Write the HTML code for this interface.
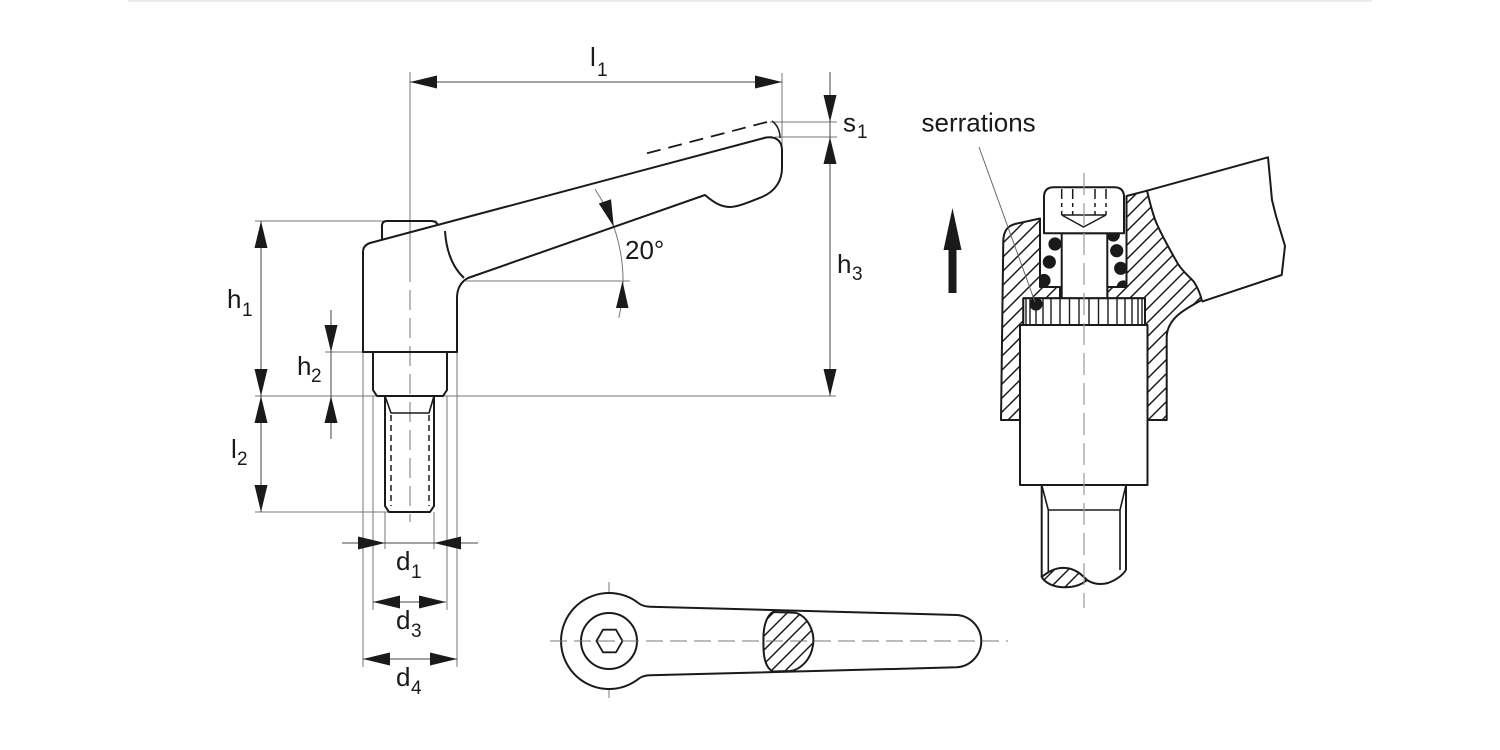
<!DOCTYPE html>
<html>
<head>
<meta charset="utf-8">
<style>
html,body{margin:0;padding:0;background:#fff;}
body{width:1500px;height:750px;overflow:hidden;}
svg{display:block;}
text{font-family:"Liberation Sans",Arial,sans-serif;fill:#1a1a1a;}
</style>
</head>
<body>
<svg width="1500" height="750" viewBox="0 0 1500 750" xmlns="http://www.w3.org/2000/svg">
<defs>
<pattern id="h" patternUnits="userSpaceOnUse" width="14" height="14">
<rect width="14" height="14" fill="#fff"/>
<path d="M-1,15 L15,-1 M-8,8 L8,-8 M6,22 L22,6" stroke="#1a1a1a" stroke-width="1.5"/>
</pattern>
</defs>

<rect x="128" y="0" width="1244" height="2" fill="#ececf0"/>

<!-- ============ SIDE VIEW ============ -->
<g stroke="#777" stroke-width="1" fill="none">
  <!-- extension lines -->
  <line x1="410" y1="72" x2="410" y2="262"/>
  <line x1="410" y1="262" x2="410" y2="522" stroke-dasharray="20 8"/>
  <line x1="782" y1="73" x2="782" y2="150"/>
  <line x1="770" y1="122" x2="837" y2="122"/>
  <line x1="775" y1="137" x2="837" y2="137"/>
  <line x1="255" y1="221" x2="437" y2="221"/>
  <line x1="255" y1="396" x2="836" y2="396"/>
  <line x1="325" y1="352" x2="363" y2="352"/>
  <line x1="255" y1="512" x2="389" y2="512"/>
  <line x1="466" y1="281" x2="630" y2="281"/>
  <line x1="363" y1="352" x2="363" y2="667"/>
  <line x1="457" y1="352" x2="457" y2="667"/>
  <line x1="373" y1="396" x2="373" y2="610"/>
  <line x1="447" y1="396" x2="447" y2="610"/>
  <line x1="385" y1="512" x2="385" y2="549"/>
  <line x1="434" y1="512" x2="434" y2="549"/>
  <!-- 20 deg arc -->
  <path d="M595,189.3 A164 164 0 0 1 618.8,317.9"/>
</g>
<g stroke="#444" stroke-width="1" fill="none">
  <line x1="410" y1="82" x2="782" y2="82"/>
  <line x1="830" y1="72" x2="830" y2="396"/>
  <line x1="261" y1="221" x2="261" y2="512"/>
  <line x1="331" y1="310" x2="331" y2="439"/>
  <line x1="342" y1="543" x2="478" y2="543"/>
  <line x1="373" y1="602" x2="446" y2="602"/>
  <line x1="363" y1="659" x2="457" y2="659"/>
</g>
<g fill="#1a1a1a">
  <!-- l1 -->
  <polygon points="410,82 437,75.5 437,88.5"/>
  <polygon points="782,82 755,75.5 755,88.5"/>
  <!-- s1 / h3 -->
  <polygon points="830,122 823.5,95 836.5,95"/>
  <polygon points="830,137 823.5,164 836.5,164"/>
  <polygon points="830,396 823.5,369 836.5,369"/>
  <!-- h1 / l2 -->
  <polygon points="261,221 254.5,248 267.5,248"/>
  <polygon points="261,396 254.5,369 267.5,369"/>
  <polygon points="261,396 254.5,423 267.5,423"/>
  <polygon points="261,512 254.5,485 267.5,485"/>
  <!-- h2 -->
  <polygon points="331,352 324.5,325 337.5,325"/>
  <polygon points="331,396 324.5,423 337.5,423"/>
  <!-- d1 -->
  <polygon points="385,543 358,536.5 358,549.5"/>
  <polygon points="434,543 461,536.5 461,549.5"/>
  <!-- d3 -->
  <polygon points="373,602 400,595.5 400,608.5"/>
  <polygon points="446,602 419,595.5 419,608.5"/>
  <!-- d4 -->
  <polygon points="363,659 390,652.5 390,665.5"/>
  <polygon points="457,659 430,652.5 430,665.5"/>
  <!-- 20 deg -->
  <polygon points="613.8,226.9 611,199.3 598.8,203.5"/>
  <polygon points="622.5,281 616,308 628.5,308"/>
</g>

<!-- handle outline -->
<g stroke="#1a1a1a" stroke-width="2" fill="none" stroke-linejoin="round">
  <path d="M363,352 L363,252 Q363,245.5 370,243 L766,137.5 C776,136 782,141 782,150 L782,168 C782,180 776,191 762,197 C752,201 738,207 730,207 C720,207 712,201 705,195 L468,278 Q457,284 457,298 L457,352 Z"/>
  <path d="M382,239.8 L382,226 Q382,221 387,221 L431,221 Q436,221 438,225"/>
  <path d="M445,231 Q447,262 464,278"/>
  <path d="M647,153.3 L768,121.7" stroke-dasharray="14 8" stroke-width="1.8"/>
  <path d="M772,121 Q780,127 780,138" stroke-width="1.5"/>
  <!-- collar -->
  <path d="M373,352 L373,390 L377,396 L443,396 L447,390 L447,352"/>
  <!-- thread -->
  <path d="M385,396 L385,506 L389,512 L430,512 L434,506 L434,396"/>
  <path d="M385,396 L391,413 L429,413 L434,396" stroke-width="1.6"/>
  <line x1="391" y1="415" x2="391" y2="506" stroke-dasharray="6 4" stroke-width="1.5"/>
  <line x1="429" y1="415" x2="429" y2="506" stroke-dasharray="6 4" stroke-width="1.5"/>
</g>

<!-- labels side view -->
<text x="590" y="66" font-size="26">l</text><text x="597" y="76" font-size="19">1</text>
<text x="843" y="131.5" font-size="26">s</text><text x="857" y="138" font-size="19">1</text>
<text x="837" y="273" font-size="26">h</text><text x="852" y="280" font-size="19">3</text>
<text x="625" y="259" font-size="26">20°</text>
<text x="227" y="308" font-size="26">h</text><text x="242" y="316" font-size="19">1</text>
<text x="297" y="375" font-size="26">h</text><text x="311" y="382" font-size="19">2</text>
<text x="231" y="458" font-size="26">l</text><text x="237" y="465" font-size="19">2</text>
<text x="396" y="570" font-size="26">d</text><text x="411" y="578" font-size="19">1</text>
<text x="396" y="629" font-size="26">d</text><text x="411" y="637" font-size="19">3</text>
<text x="396" y="686" font-size="26">d</text><text x="411" y="694" font-size="19">4</text>

<!-- ============ TOP VIEW (bottom) ============ -->
<g stroke="#777" stroke-width="1" fill="none">
  <line x1="609" y1="582" x2="609" y2="698"/>
</g>
<g stroke="#1a1a1a" stroke-width="2" fill="none" stroke-linejoin="round">
  <path d="M956.7,615 L650,606.7 Q643,606.5 639,603.5 A48 48 0 1 0 639,678.5 Q643,675.5 650,675.3 L956.7,667.3 A26.2 26.2 0 0 0 956.7,615 Z" fill="#fff"/>
  <circle cx="609" cy="641" r="28"/>
  <polygon points="596.5,641 603,629.7 616,629.7 622.5,641 616,652.3 603,652.3" stroke-width="1.8"/>
  <path d="M773,612 L795,612.7 C808,616 815,632 813,645 C811,660 800,670 790,671 L773,671.5 C765,668 763,655 763.5,641 C763,628 766,616 773,612 Z" fill="url(#h)"/>
</g>
<line x1="550" y1="641" x2="1008" y2="641" stroke="#777" stroke-width="1" stroke-dasharray="17 7"/>

<!-- ============ SECTION VIEW ============ -->
<!-- up arrow -->
<polygon points="952.5,208 961.5,250 956.5,250 956.5,293 948.5,293 948.5,250 943.5,250" fill="#1a1a1a"/>
<text x="921.5" y="131.5" font-size="26">serrations</text>

<g stroke="#1a1a1a" stroke-width="2" fill="none" stroke-linejoin="round">
  <!-- lever continuation -->
  <path d="M1147,190.7 L1268,157.3 L1272,200 L1276,216 L1285,246 L1281.7,275 L1201.7,301.7" fill="#fff"/>
  <!-- spring dots (under) -->
  <g fill="#1a1a1a" stroke="none">
    <circle cx="1055" cy="244" r="6.6"/>
    <circle cx="1049.3" cy="262" r="6.6"/>
    <circle cx="1044" cy="280.5" r="6.6"/>
    <circle cx="1113.3" cy="235" r="6.6"/>
    <circle cx="1116.7" cy="250.7" r="6.6"/>
    <circle cx="1120.7" cy="268.3" r="6.6"/>
    <circle cx="1123.3" cy="287" r="6.6"/>
  </g>
  <!-- hatched regions -->
  <path d="M1126.5,196 L1147,190.7 C1150,203 1152,212 1156,222 C1161,234 1170,250 1178,264 C1184,273 1190,277 1194,282 C1198,288 1200,293 1201.7,300 C1185,309 1168,318 1166.7,336 L1166.7,420 L1147,420 L1147,325 L1145,325 L1145,298.3 L1107.3,298.3 L1107.3,287 L1126.5,287 Z" fill="url(#h)"/>
  <path d="M1001,420 L1003.3,240 C1004,230 1008,226 1015,224 L1040,218.5 L1040,287 L1060,287 L1060,298.3 L1023.3,298.3 L1023.3,325 L1020,325 L1020,420 Z" fill="url(#h)"/>
  <!-- screw shank -->
  <rect x="1061.7" y="233.3" width="45.6" height="65" fill="#fff"/>
  <!-- screw head -->
  <path d="M1044,233.3 L1044,197 Q1044,187.3 1054,187.3 L1114,187.3 Q1124,187.3 1124,197 L1124,233.3 Z" fill="#fff"/>
  <g stroke-width="1.5">
    <line x1="1061.7" y1="189" x2="1061.7" y2="215" stroke-dasharray="10 4 4 4"/>
    <line x1="1072.7" y1="189" x2="1072.7" y2="215" stroke-dasharray="10 4 4 4"/>
    <line x1="1095" y1="189" x2="1095" y2="215" stroke-dasharray="10 4 4 4"/>
    <line x1="1106" y1="189" x2="1106" y2="215" stroke-dasharray="10 4 4 4"/>
    <path d="M1061.7,215 L1106,215 M1061.7,215 L1083.5,227 L1106,215"/>
  </g>
  <!-- serration ring -->
  <rect x="1023.3" y="298.3" width="121.7" height="26.7" fill="#fff"/>
  <g stroke-width="1.4">
    <line x1="1026" y1="298.3" x2="1026" y2="325"/>
    <line x1="1030" y1="298.3" x2="1030" y2="325"/>
    <line x1="1036" y1="298.3" x2="1036" y2="325"/>
    <line x1="1043" y1="298.3" x2="1043" y2="325"/>
    <line x1="1051" y1="298.3" x2="1051" y2="325"/>
    <line x1="1060" y1="298.3" x2="1060" y2="325"/>
    <line x1="1069.5" y1="298.3" x2="1069.5" y2="325"/>
    <line x1="1079" y1="298.3" x2="1079" y2="325"/>
    <line x1="1089" y1="298.3" x2="1089" y2="325"/>
    <line x1="1098.5" y1="298.3" x2="1098.5" y2="325"/>
    <line x1="1108" y1="298.3" x2="1108" y2="325"/>
    <line x1="1117" y1="298.3" x2="1117" y2="325"/>
    <line x1="1125" y1="298.3" x2="1125" y2="325"/>
    <line x1="1132" y1="298.3" x2="1132" y2="325"/>
    <line x1="1138" y1="298.3" x2="1138" y2="325"/>
    <line x1="1142" y1="298.3" x2="1142" y2="325"/>
  </g>
  <circle cx="1036" cy="304" r="6.6" fill="#1a1a1a" stroke="none"/>
  <!-- cylinder -->
  <rect x="1020" y="325" width="127.5" height="160" fill="#fff"/>
  <!-- shaft -->
  <path d="M1041.7,485 L1041.7,577 M1126,485 L1126,570"/>
  <path d="M1041.7,485 L1048.3,510 L1120,510 L1126,485" stroke-width="1.6"/>
  <path d="M1048.3,510 L1048.3,573 M1120,510 L1120,570" stroke-width="1.6"/>
  <path d="M1041.7,577 C1050,570 1058,567 1066,568 C1076,569 1082,575 1087,580 C1080,586 1070,588 1060,587 C1050,586 1044,581 1041.7,577 Z" fill="url(#h)"/>
  <path d="M1087,580 C1093,584 1100,585 1108,583 C1116,580 1122,576 1126,570"/>
</g>
<!-- centerline and leader -->
<line x1="1084" y1="173" x2="1084" y2="608" stroke="#999" stroke-width="1.2" stroke-dasharray="22 8"/>
<line x1="979" y1="147" x2="1035" y2="302" stroke="#666" stroke-width="1"/>
</svg>
</body>
</html>
